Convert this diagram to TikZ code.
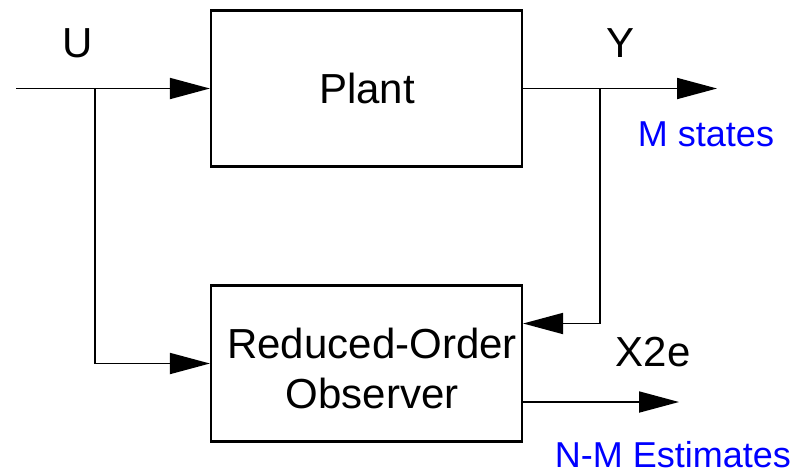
\documentclass[tikz,border=0pt]{standalone}
\usepackage{fontspec}
\setmainfont{Liberation Sans}
\usetikzlibrary{arrows.meta}
\begin{document}
\begin{tikzpicture}[x=1pt,y=-1pt,
  blk/.style={draw,line width=2.2pt,minimum width=311pt,minimum height=156pt,inner sep=0pt,font=\fontsize{42}{48}\selectfont,align=center},
  sig/.style={line width=1.8pt,-{Triangle[length=40pt,width=21pt]}},
  wire/.style={line width=1.8pt},
  lbl/.style={font=\fontsize{42}{48}\selectfont,inner sep=0pt},
  bl/.style={font=\fontsize{36}{40}\selectfont,text=blue,inner sep=0pt}]
\useasboundingbox (0,0) rectangle (794,472);
\node[blk] (plant) at (366.5,88.5) {};
\node[lbl] (plantt) at (367,88) {Plant};
\node[blk] (obs) at (366.5,363.5) {};
\node[lbl,align=center] (obst) at (372,368) {Reduced-Order\\[2pt]Observer};
\coordinate (in) at (16,88.5);
\coordinate (bu) at (95,88.5);
\coordinate (bul) at (95,363.5);
\coordinate (by) at (600,88.5);
\coordinate (byl) at (600,323.5);
\coordinate (yout) at (717,88.5);
\coordinate (xout) at (679,402);
\draw[wire] (in) -- (bu);
\draw[sig] (bu) -- (plant.west);
\draw[wire] (bu) -- (bul);
\draw[sig] (bul) -- (obs.west);
\draw[wire] (plant.east) -- (by);
\draw[sig] (by) -- (yout);
\draw[wire] (by) -- (byl);
\draw[sig] (byl) -- (obs.east |- byl);
\draw[sig] (obs.east |- xout) -- (xout);
\node[lbl] (u) at (78,43) {U};
\node[lbl] (y) at (620,43) {Y};
\node[bl] (ms) at (706,134) {M states};
\node[lbl] (x2e) at (653,352) {X2e};
\node[bl] (nm) at (673,455) {N-M Estimates};
\end{tikzpicture}
\end{document}
